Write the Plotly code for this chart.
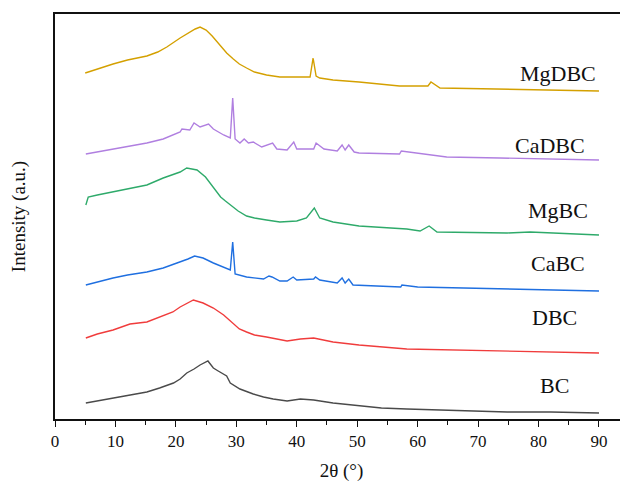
import plotly.graph_objects as go

# Data (2theta in degrees, intensity in arbitrary offset units)
bc_x = [5.1, 7.0, 9.6, 12.0, 15.2, 17.3, 19.6, 20.7, 21.8, 23.0, 24.0, 25.3, 26.2, 27.0, 27.9, 28.4, 29.0, 30.0, 30.6, 32.8, 34.5, 36.1, 38.4, 40.6, 42.8, 46.0, 50.3, 54.0, 58.2, 65.0, 74.8, 82.0, 90.0]
bc_y = [16, 18, 21, 24, 27, 31, 36, 40, 46, 50, 54, 58, 51, 48, 45, 43, 36, 32, 30, 25, 22, 20, 18, 20, 19, 16, 13, 11, 10, 9, 7, 7, 6]

dbc_x = [5.1, 7.0, 9.6, 12.4, 15.2, 17.9, 19.5, 20.7, 22.0, 22.9, 24.5, 26.2, 27.9, 28.8, 29.6, 30.5, 31.7, 33.0, 35.0, 38.4, 40.6, 42.8, 46.0, 50.3, 58.2, 74.8, 90.0]
dbc_y = [81, 85, 89, 95, 97, 103, 107, 112, 116, 119, 116, 111, 104, 99, 94, 90, 87, 84, 82, 78, 80, 81, 77, 74, 70, 68, 66]

cabc_x = [5.1, 7.0, 9.6, 12.0, 15.2, 17.9, 20.7, 22.0, 23.1, 24.5, 26.2, 28.4, 29.0, 29.4, 29.8, 31.7, 34.5, 35.4, 35.9, 37.2, 38.4, 39.4, 40.0, 42.8, 43.1, 43.8, 46.7, 47.5, 48.0, 48.6, 49.3, 57.2, 57.4, 60.0, 74.8, 90.0]
cabc_y = [134, 137, 141, 144, 147, 151, 157, 160, 163, 161, 156, 151, 149, 177, 145, 142, 140, 143, 142, 138, 138, 142, 139, 140, 142, 139, 136, 141, 136, 140, 134, 132, 134, 132, 130, 128]

mgbc_x = [5.1, 5.5, 7.0, 9.6, 12.0, 15.2, 17.9, 20.7, 21.8, 23.5, 24.9, 26.2, 27.4, 28.2, 29.0, 30.3, 31.7, 33.0, 35.0, 37.2, 40.0, 41.6, 42.9, 43.8, 46.0, 50.3, 58.2, 60.4, 61.9, 63.2, 74.8, 78.6, 90.0]
mgbc_y = [214, 222, 224, 227, 230, 234, 241, 247, 251, 249, 242, 232, 222, 218, 214, 208, 203, 201, 199, 197, 198, 201, 211, 201, 197, 193, 190, 188, 193, 187, 186, 187, 184]

cadbc_x = [5.1, 7.0, 9.6, 12.0, 15.2, 17.9, 20.7, 21.0, 22.3, 23.0, 24.0, 25.4, 26.2, 27.9, 29.0, 29.4, 29.8, 30.6, 31.3, 32.0, 32.8, 34.2, 36.0, 36.7, 38.4, 39.5, 40.0, 42.8, 43.2, 44.5, 46.7, 47.5, 48.0, 48.6, 49.5, 50.3, 57.0, 57.3, 64.8, 73.6, 90.0]
cadbc_y = [265, 267, 270, 273, 276, 280, 287, 290, 289, 296, 292, 295, 290, 284, 281, 321, 280, 276, 280, 276, 277, 272, 276, 270, 269, 277, 270, 270, 276, 270, 268, 274, 269, 274, 267, 266, 265, 268, 262, 261, 259]

mgdbc_x = [5.0, 7.0, 9.6, 12.0, 15.2, 17.0, 18.5, 20.7, 22.3, 23.2, 24.0, 25.0, 26.0, 27.2, 28.4, 29.5, 30.5, 31.7, 33.0, 35.0, 37.2, 40.0, 42.2, 42.7, 43.2, 43.8, 46.0, 50.3, 57.0, 61.7, 62.2, 63.7, 73.6, 90.0]
mgdbc_y = [346, 350, 355, 359, 363, 367, 372, 381, 387, 390, 392, 389, 383, 374, 366, 360, 355, 351, 347, 344, 342, 342, 342, 361, 343, 341, 339, 337, 333, 333, 337, 331, 330, 328]

series_names = ["BC", "DBC", "CaBC", "MgBC", "CaDBC", "MgDBC"]
series_x = [bc_x, dbc_x, cabc_x, mgbc_x, cadbc_x, mgdbc_x]
series_y = [bc_y, dbc_y, cabc_y, mgbc_y, cadbc_y, mgdbc_y]
colors = ["#4a4a4a", "#f03c3c", "#1f6fe0", "#2eaa6a", "#b07fe0", "#d4a000"]

x_ticks = [0, 10, 20, 30, 40, 50, 60, 70, 80, 90]

# label anchor positions (right edge x in degrees, centre y in data units)
label_x = [85.4, 86.7, 88.0, 88.5, 88.0, 89.8]
label_y = [34, 102, 156, 209, 274, 346]

FONT = "Liberation Serif"

fig = go.Figure()
for name, xs, ys, c in zip(series_names, series_x, series_y, colors):
    fig.add_trace(go.Scatter(x=xs, y=ys, mode="lines", name=name,
                             line=dict(color=c, width=1.4), showlegend=False))

for name, lx, ly in zip(series_names, label_x, label_y):
    fig.add_annotation(x=lx, y=ly, text=name, showarrow=False, xanchor="right",
                       yanchor="middle", font=dict(family=FONT, size=22, color="#111"))

# the page body adds an 8 px offset, so the figure is sized to fit the window
fig.update_layout(
    width=620, height=476,
    margin=dict(l=47, r=0, t=6, b=65),
    paper_bgcolor="white", plot_bgcolor="white",
    font=dict(family=FONT, color="#111"),
    xaxis=dict(range=[0, 94.8], tickvals=x_ticks, ticks="outside", ticklen=6,
               tickwidth=1.3, tickcolor="#111", showline=True, linecolor="#111",
               linewidth=1.5, mirror=True, showgrid=False, zeroline=False,
               automargin=False,
               tickfont=dict(size=17, family=FONT),
               minor=dict(dtick=5, ticks="outside", ticklen=4, tickwidth=1.3, tickcolor="#111"),
               title=dict(text="2θ (°)", font=dict(size=19, family=FONT), standoff=14)),
    yaxis=dict(range=[0, 405], showticklabels=False, ticks="", showline=True,
               linecolor="#111", linewidth=1.5, showgrid=False, zeroline=False,
               automargin=False,
               title=dict(text="Intensity (a.u.)", font=dict(size=19, family=FONT), standoff=25)),
)

fig.write_html("out.html")
